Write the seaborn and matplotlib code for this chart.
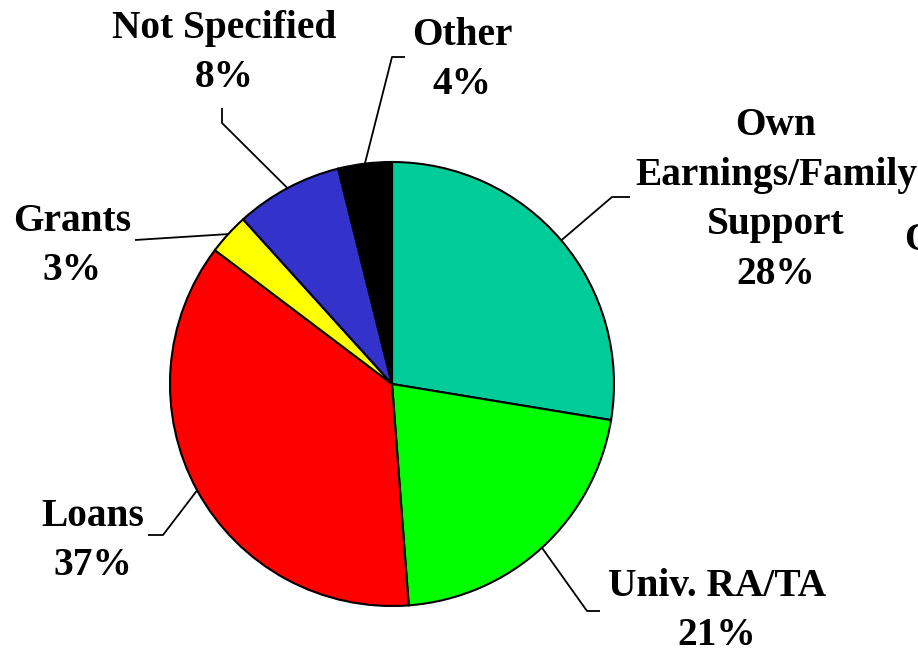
import numpy as np
import seaborn as sns
import matplotlib.pyplot as plt

# funding sources (percent, clockwise from 12 o'clock)
sources = ["Own\nEarnings/Family\nSupport", "Univ. RA/TA", "Loans", "Grants", "Not Specified", "Other"]
shares = [27.6, 21.2, 36.5, 3.0, 7.8, 3.9]
pct_labels = ["28%", "21%", "37%", "3%", "8%", "4%"]
colors = ["#00CC99", "#00FF00", "#FF0000", "#FFFF00", "#3333CC", "#000000"]

sns.set_theme(style="white")
plt.rcParams["font.family"] = ["Liberation Serif", "DejaVu Serif"]

fig = plt.figure(figsize=(9.18, 6.55), dpi=100)
ax = fig.add_axes([0, 0, 1, 1])
H = 655

cx, cy, r = 392, H - 384, 222
wedges, _ = ax.pie(shares, colors=colors, startangle=90, counterclock=False,
                   center=(cx, cy), radius=r, frame=True,
                   wedgeprops=dict(edgecolor="black", linewidth=1.5))
ax.set_xlim(0, 918)
ax.set_ylim(0, H)
ax.set_aspect("equal")
ax.axis("off")

# label layout: text centre, elbow point, leader end (pixel coords, y from top)
layout = [
    ((776, 200), (612, 197), (630, 197)),
    ((717, 611), (587, 611), (600, 611)),
    ((93, 541), (163, 535), (148, 535)),
    ((72, 246), (135, 240), (135, 240)),
    ((224, 53), (222, 123), (222, 108)),
    ((462, 60), (392, 57), (405, 57)),
]

for w, name, pct, (txt, elbow, end) in zip(wedges, sources, pct_labels, layout):
    mid = np.deg2rad((w.theta1 + w.theta2) / 2)
    sx, sy = cx + r * np.cos(mid), cy + r * np.sin(mid)
    ax.plot([sx, elbow[0], end[0]], [sy, H - elbow[1], H - end[1]],
            color="black", linewidth=1.3, solid_capstyle="butt")
    ax.text(txt[0], H - txt[1], name + "\n" + pct, ha="center", va="center",
            fontsize=28.4, fontweight="bold", linespacing=1.45, color="black")

# partially visible text at the right edge
ax.text(904, H - 250, "O", ha="left", va="baseline", fontsize=28.4,
        fontweight="bold", color="black")

fig.savefig("out.png", dpi=100)
